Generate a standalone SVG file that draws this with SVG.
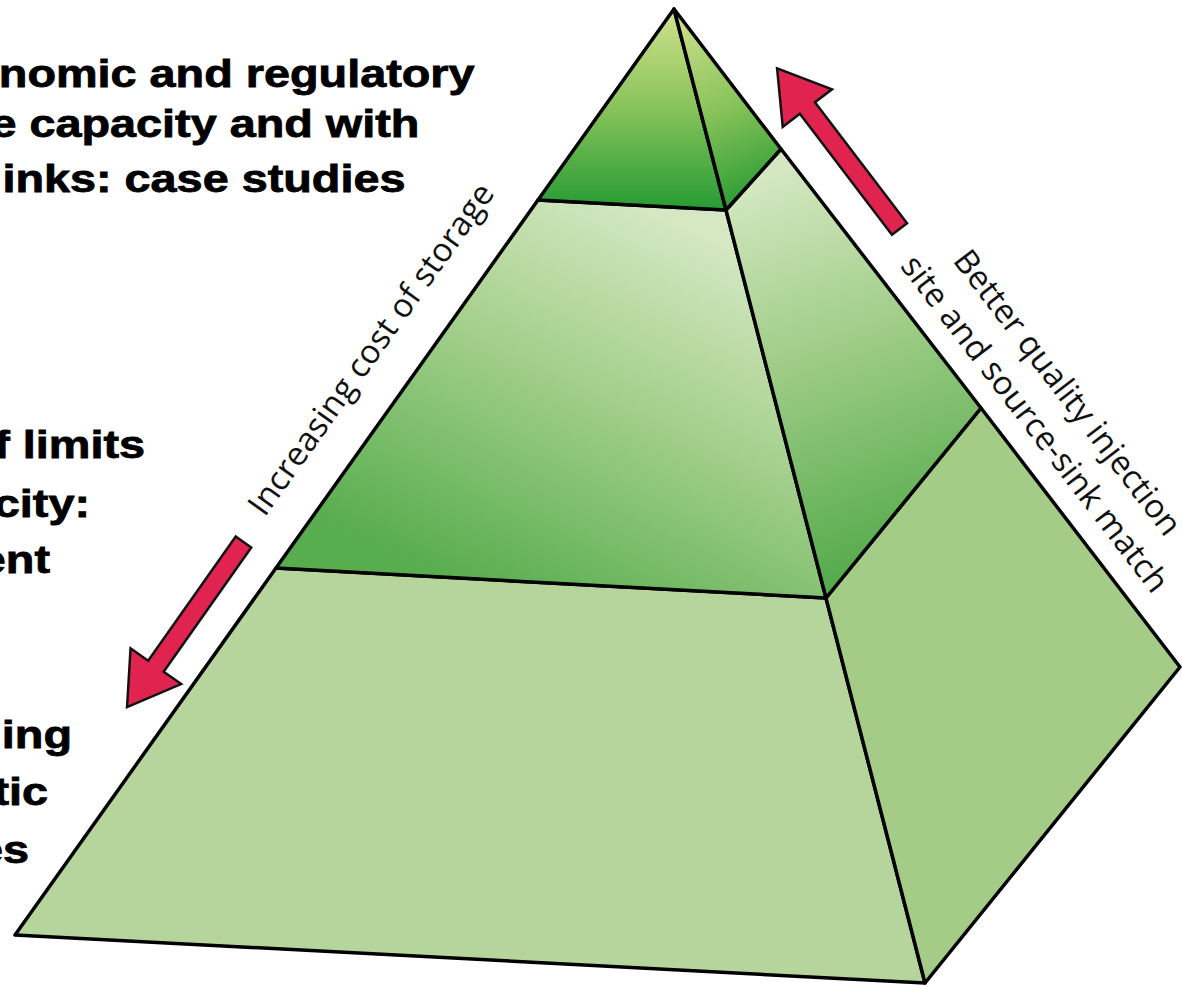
<svg xmlns="http://www.w3.org/2000/svg" xmlns:xlink="http://www.w3.org/1999/xlink" width="1182" height="987" viewBox="0 0 1182 987">
  <style>
    .side { font-family: "Liberation Sans", Arial, sans-serif; font-weight: bold; font-size: 39px; fill: #000; stroke: #000; stroke-width: 0.8; }
    .edge { font-family: "Open Sans", "DejaVu Sans", sans-serif; font-size: 33px; fill: #111; }
    .face { stroke: #000; stroke-width: 3.5; stroke-linejoin: round; }
    .arrow { fill: #e1244f; stroke: #111; stroke-width: 2.5; stroke-linejoin: miter; }
  </style>
  <defs>
    <!-- apex tier: yellow-green at the tip, deep green at its base -->
    <linearGradient id="gTop" gradientUnits="userSpaceOnUse" x1="0" y1="12" x2="0" y2="210">
      <stop offset="0" stop-color="#cfe08c"/>
      <stop offset="0.45" stop-color="#8dc55d"/>
      <stop offset="1" stop-color="#279b33"/>
    </linearGradient>
    <linearGradient id="gTopR" gradientUnits="userSpaceOnUse" x1="690" y1="20" x2="760" y2="200">
      <stop offset="0" stop-color="#cadd88"/>
      <stop offset="0.5" stop-color="#86c259"/>
      <stop offset="1" stop-color="#289b33"/>
    </linearGradient>
    <!-- middle tier: pale at the top, darker toward the lower left -->
    <linearGradient id="gMid" gradientUnits="userSpaceOnUse" x1="650" y1="205" x2="470" y2="590">
      <stop offset="0" stop-color="#d5e8c3"/>
      <stop offset="0.4" stop-color="#a9d291"/>
      <stop offset="1" stop-color="#58ad4e"/>
    </linearGradient>
    <linearGradient id="gMidR" gradientUnits="userSpaceOnUse" x1="760" y1="180" x2="890" y2="560">
      <stop offset="0" stop-color="#d3e7c0"/>
      <stop offset="0.45" stop-color="#9fcd88"/>
      <stop offset="1" stop-color="#56ab4c"/>
    </linearGradient>
    <path id="arrowShape" d="M0,-9.5 H152 V-31 L202,0 L152,31 V9.5 H0 Z"/>
  </defs>

  <rect width="1182" height="987" fill="#fff"/>

  <!-- side captions, cut off at the left margin -->
  <g id="caption-top">
    <text class="side" transform="translate(0,87) scale(1.2,1)" x="-1" y="0">nomic and regulatory</text>
    <text class="side" transform="translate(0,137) scale(1.2,1)" x="-8" y="0">e capacity and with</text>
    <text class="side" transform="translate(0,192) scale(1.2,1)" x="2" y="0">inks: case studies</text>
  </g>
  <g id="caption-middle">
    <text class="side" text-anchor="end" transform="translate(145,458) scale(1.2,1)">f limits</text>
    <text class="side" text-anchor="end" transform="translate(90,517) scale(1.2,1)">city:</text>
    <text class="side" text-anchor="end" transform="translate(50,573) scale(1.2,1)">ent</text>
  </g>
  <g id="caption-bottom">
    <text class="side" text-anchor="end" transform="translate(72,748) scale(1.2,1)">ing</text>
    <text class="side" text-anchor="end" transform="translate(48,805) scale(1.2,1)">tic</text>
    <text class="side" text-anchor="end" transform="translate(29,863) scale(1.2,1)">es</text>
  </g>

  <!-- pyramid: three tiers, each with a front face and a right face -->
  <g id="tier-bottom">
    <polygon class="face" fill="#b6d59c" points="276,568 15,935 925,983 826,598"/>
    <polygon class="face" fill="#a5cc86" points="826,598 925,983 1180,667 981,408"/>
  </g>
  <g id="tier-middle">
    <polygon class="face" fill="url(#gMid)" points="538,200 276,568 826,598 726,210"/>
    <polygon class="face" fill="url(#gMidR)" points="726,210 826,598 981,408 781,149"/>
  </g>
  <g id="tier-top">
    <polygon class="face" fill="url(#gTop)" points="674,9 538,200 726,210"/>
    <polygon class="face" fill="url(#gTopR)" points="674,9 726,210 781,149"/>
  </g>

  <!-- labels running along the slanted edges -->
  <g id="label-cost">
    <text class="edge" transform="translate(264.8,517.7) rotate(-54.56)" textLength="398" lengthAdjust="spacing">Increasing cost of storage</text>
  </g>
  <g id="label-quality">
    <text class="edge" transform="translate(952.1,260.7) rotate(52.44)" textLength="350" lengthAdjust="spacing">Better quality injection</text>
    <text class="edge" transform="translate(899.5,266.2) rotate(52.44)" textLength="415" lengthAdjust="spacing">site and source-sink match</text>
  </g>

  <!-- direction arrows beside the edges -->
  <g id="arrows">
    <use xlink:href="#arrowShape" class="arrow" transform="translate(899.5,229) rotate(-127.3)"/>
    <use xlink:href="#arrowShape" class="arrow" transform="translate(243.5,542) rotate(125.2)"/>
  </g>
</svg>
